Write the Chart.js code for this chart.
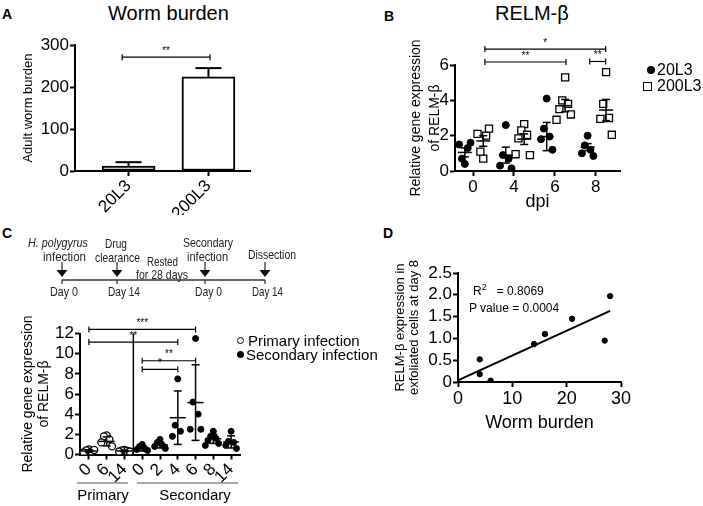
<!DOCTYPE html>
<html>
<head>
<meta charset="utf-8">
<script src="https://cdn.jsdelivr.net/npm/chart.js@4.4.1/dist/chart.umd.min.js"></script>
<style>
  body { margin: 0; background: #fff; font-family: 'Liberation Sans', Arial, sans-serif; color: #000; }
  #page { position: relative; width: 703px; height: 506px; overflow: hidden; }
  canvas, .t, svg, .mk { position: absolute; }
  .t { line-height: 1; white-space: nowrap; }
  .letter { font-weight: bold; font-size: 14px; }
  .title { font-size: 20px; }
  .mk { box-sizing: border-box; }
</style>
</head>
<body>
<div id="page">
  <!-- panel letters and titles -->
  <div class="t letter" style="left:2px;top:7px">A</div>
  <div class="t title" style="left:108px;top:3px">Worm burden</div>
  <div class="t letter" style="left:384px;top:9px">B</div>
  <div class="t title" style="left:495px;top:3px">RELM-β</div>
  <div class="t letter" style="left:2px;top:226px">C</div>
  <div class="t letter" style="left:383px;top:226px">D</div>

  <canvas id="cA" width="262" height="215" style="left:0;top:0"></canvas>
  <canvas id="cB" width="333" height="215" style="left:370px;top:0"></canvas>
  <canvas id="cC" width="370" height="201" style="left:0;top:305px"></canvas>
  <canvas id="cD" width="333" height="200" style="left:370px;top:240px"></canvas>

  <!-- legend B -->
  <div class="mk" style="left:647px;top:66px;width:8px;height:8px;border-radius:50%;background:#000"></div>
  <div class="t" style="left:657px;top:62px;font-size:16px">20L3</div>
  <div class="mk" style="left:643px;top:82px;width:9px;height:9px;border:1.3px solid #000"></div>
  <div class="t" style="left:657px;top:78px;font-size:16px">200L3</div>

  <!-- legend C -->
  <div class="mk" style="left:236.5px;top:337px;width:7px;height:7px;border-radius:50%;border:1.2px solid #000"></div>
  <div class="t" style="left:248px;top:333px;font-size:15px">Primary infection</div>
  <div class="mk" style="left:236.5px;top:350.5px;width:7px;height:7px;border-radius:50%;background:#000"></div>
  <div class="t" style="left:246px;top:346.5px;font-size:15px">Secondary infection</div>

  <svg width="370" height="506" style="left:0;top:0">
    <!-- C group labels -->
    <line x1="77" y1="483" x2="128" y2="483" stroke="#555" stroke-width="1"/>
    <line x1="137" y1="483" x2="238" y2="483" stroke="#555" stroke-width="1"/>
    <g font-family="'Liberation Sans', Arial, sans-serif" font-size="15" text-anchor="middle" dominant-baseline="central">
      <text x="103" y="494">Primary</text>
      <text x="195" y="494">Secondary</text>
    </g>
    <!-- timeline -->
    <line x1="62" y1="280" x2="265" y2="280" stroke="#333" stroke-width="1.3"/>
    <g stroke="#333" stroke-width="1.3">
      <line x1="62" y1="280" x2="62" y2="284"/>
      <line x1="117" y1="280" x2="117" y2="284"/>
      <line x1="205" y1="280" x2="205" y2="284"/>
      <line x1="265" y1="280" x2="265" y2="284"/>
      <line x1="62" y1="262" x2="62" y2="271"/>
      <line x1="117" y1="262" x2="117" y2="271"/>
      <line x1="205" y1="262" x2="205" y2="271"/>
      <line x1="265" y1="262" x2="265" y2="271"/>
    </g>
    <g fill="#111">
      <polygon points="56.5,270 67.5,270 62,277"/>
      <polygon points="111.5,270 122.5,270 117,277"/>
      <polygon points="199.5,270 210.5,270 205,277"/>
      <polygon points="259.5,270 270.5,270 265,277"/>
    </g>
    <g font-family="'Liberation Sans', Arial, sans-serif" font-size="13" dominant-baseline="central" fill="#222">
      <text x="28" y="242" font-style="italic" textLength="60" lengthAdjust="spacingAndGlyphs">H. polygyrus</text>
      <text x="43" y="256" textLength="43" lengthAdjust="spacingAndGlyphs">infection</text>
      <text x="105" y="243" textLength="22" lengthAdjust="spacingAndGlyphs">Drug</text>
      <text x="95" y="257" textLength="45" lengthAdjust="spacingAndGlyphs">clearance</text>
      <text x="147" y="261" textLength="31" lengthAdjust="spacingAndGlyphs">Rested</text>
      <text x="136" y="274" textLength="52" lengthAdjust="spacingAndGlyphs">for 28 days</text>
      <text x="183" y="242" textLength="50" lengthAdjust="spacingAndGlyphs">Secondary</text>
      <text x="187" y="256" textLength="41" lengthAdjust="spacingAndGlyphs">infection</text>
      <text x="248" y="254" textLength="48" lengthAdjust="spacingAndGlyphs">Dissection</text>
      <text x="50" y="291" textLength="28" lengthAdjust="spacingAndGlyphs">Day 0</text>
      <text x="108" y="291" textLength="32" lengthAdjust="spacingAndGlyphs">Day 14</text>
      <text x="195" y="291" textLength="27" lengthAdjust="spacingAndGlyphs">Day 0</text>
      <text x="252" y="291" textLength="31" lengthAdjust="spacingAndGlyphs">Day 14</text>
    </g>
  </svg>

  <!-- D stats -->
  <div class="t" style="left:473px;top:283px;font-size:12px">R<sup style="font-size:9px">2</sup>&nbsp;&nbsp;&nbsp;= 0.8069</div>
  <div class="t" style="left:469px;top:302px;font-size:12px">P value = 0.0004</div>
</div>

<script>
// ---- A: worm burden ----
const groupsA = ['20L3', '200L3'];
const wormMean = [12, 224];
const wormSem = [9, 21];

// ---- B: RELM-β by dpi ----
const dpi = ['0', '4', '6', '8'];
const relm20 = [
  [0.4, 0.7, 1.3, 1.5, 1.6],
  [2.6, 0.9, 0.7, 0.3, 0.15],
  [4.1, 2.4, 1.95, 1.8, 1.2],
  [2.0, 1.45, 1.2, 1.0, 0.85]
];
const relm200 = [
  [0.7, 1.1, 2.0, 2.1, 2.4],
  [2.65, 2.3, 2.05, 1.85, 0.9, 0.95],
  [5.3, 4.0, 3.8, 3.5, 3.2, 2.9],
  [5.6, 3.8, 3.0, 2.95, 2.05]
];
const relm20Mean = [1.05, 0.9, 1.95, 1.35];
const relm20Sem = [0.25, 0.45, 0.8, 0.2];
const relm200Mean = [1.7, 1.8, 3.7, 3.45];
const relm200Sem = [0.3, 0.3, 0.35, 0.6];

// ---- C: primary vs secondary infection ----
const dayC = ['0', '6', '14', '0', '2', '4', '6', '8', '14'];
const primaryCount = 3;
const exprC = [
  [0.5, 0.4, 0.3, 0.2, 0.45],
  [1.9, 1.8, 1.5, 1.2, 0.8],
  [0.45, 0.4, 0.35, 0.3, 0.3],
  [1.0, 0.8, 0.6, 0.5, 0.4],
  [1.5, 1.2, 0.9, 0.8, 0.6],
  [7.5, 2.9, 2.3, 1.8],
  [11.5, 5.2, 4.0, 2.5, 2.5],
  [2.3, 1.8, 1.6, 1.4, 1.1, 0.9],
  [2.3, 1.3, 1.2, 0.9, 0.6]
];
const meanC = [0.35, 1.3, 0.35, 0.6, 0.95, 3.65, 5.15, 1.55, 1.25];
const sdC = [0.12, 0.45, 0.08, 0.25, 0.3, 2.65, 3.75, 0.45, 0.6];

// ---- D: correlation ----
const wormBurden = [4, 4, 6, 14, 16, 21, 27, 28];
const relmDay8 = [0.52, 0.18, 0.03, 0.87, 1.1, 1.45, 0.95, 1.97];
const fitX = [0, 28];
const fitY = [0.04, 1.63];

const FONT = "'Liberation Sans', Arial, sans-serif";
Chart.defaults.font.family = FONT;
Chart.defaults.color = '#000';
Chart.defaults.plugins.legend.display = false;
Chart.defaults.plugins.tooltip.enabled = false;

function seg(ctx, x1, y1, x2, y2) {
  ctx.beginPath();
  ctx.moveTo(x1, y1);
  ctx.lineTo(x2, y2);
  ctx.stroke();
}

// spread points of one group sideways so they don't sit on top of each other
function jit(j, w) {
  const k = Math.ceil(j / 2);
  return (j % 2 ? -1 : 1) * k * w;
}

// fix scale size and drop the label overflow padding
function fixX(h) {
  return s => { s.height = h; s.paddingLeft = 0; s.paddingRight = 0; };
}
function fixY(w) {
  return s => { s.width = w; s.paddingTop = 0; s.paddingBottom = 0; };
}

// error bars, mean lines, significance brackets
const marks = {
  id: 'marks',
  afterDatasetsDraw(chart, args, o) {
    const {ctx, scales: {x, y}} = chart;
    ctx.save();
    ctx.strokeStyle = '#000';
    ctx.fillStyle = '#000';
    ctx.lineWidth = o.lineWidth || 1.5;
    (o.errors || []).forEach(e => {
      const cx = x.getPixelForValue(e.x);
      const ym = y.getPixelForValue(e.mean);
      const yt = y.getPixelForValue(e.mean + e.err);
      const yb = e.upOnly ? ym : y.getPixelForValue(e.mean - e.err);
      seg(ctx, cx, yt, cx, yb);
      seg(ctx, cx - o.cap, yt, cx + o.cap, yt);
      if (!e.upOnly) seg(ctx, cx - o.cap, yb, cx + o.cap, yb);
      if (o.meanHalf) seg(ctx, cx - o.meanHalf, ym, cx + o.meanHalf, ym);
    });
    (o.dividers || []).forEach(v => {
      const px = x.getPixelForValue(v.x);
      seg(ctx, px, y.getPixelForValue(v.top), px, y.getPixelForValue(0));
    });
    ctx.lineWidth = 1.2;
    ctx.font = '10px ' + FONT;
    ctx.textAlign = 'center';
    ctx.textBaseline = 'bottom';
    (o.brackets || []).forEach(b => {
      const x1 = x.getPixelForValue(b.from), x2 = x.getPixelForValue(b.to);
      const yy = y.getPixelForValue(b.y);
      seg(ctx, x1, yy, x2, yy);
      seg(ctx, x1, yy - 3, x1, yy + 3);
      seg(ctx, x2, yy - 3, x2, yy + 3);
      ctx.fillText(b.text, (x1 + x2) / 2, yy - 1);
    });
    ctx.restore();
  }
};

const border = { color: '#000', width: 2 };
const grid = { offset: false, drawOnChartArea: false, drawTicks: true, tickLength: 5, tickWidth: 2, tickColor: '#000' };

// ---------- A ----------
// scatter base so the x axis stays a plain linear axis; bars come from a bar dataset
new Chart(document.getElementById('cA'), {
  type: 'scatter',
  data: {
    datasets: [{
      type: 'bar',
      data: groupsA.map((g, i) => ({x: i + 1, y: wormMean[i]})),
      backgroundColor: '#fff',
      borderColor: '#000',
      borderWidth: 2,
      borderSkipped: false,
      barThickness: 53
    }]
  },
  options: {
    responsive: false,
    animation: false,
    layout: { autoPadding: false, padding: {left: 17, top: 45, right: 12, bottom: 0} },
    scales: {
      x: {
        type: 'linear', min: 0.33, max: 2.52, offset: false,
        border, grid,
        afterBuildTicks: s => { s.ticks = groupsA.map((g, i) => ({value: i + 1})); },
        afterFit: fixX(44),
        ticks: { autoSkip: false, minRotation: 45, maxRotation: 45, padding: 0, font: {size: 17},
                 callback: v => groupsA[v - 1] }
      },
      y: {
        min: 0, max: 300,
        border, grid,
        afterFit: fixY(58),
        ticks: { stepSize: 100, padding: 1, font: {size: 17} },
        title: { display: true, text: 'Adult worm burden', font: {size: 13}, padding: {top: 4, bottom: 0} }
      }
    },
    plugins: {
      marks: {
        lineWidth: 2, cap: 13,
        errors: groupsA.map((g, i) => ({x: i + 1, mean: wormMean[i], err: wormSem[i], upOnly: true})),
        brackets: [{from: 0.92, to: 2.02, y: 271, text: '**'}]
      }
    }
  },
  plugins: [marks]
});

// ---------- B ----------
new Chart(document.getElementById('cB'), {
  type: 'scatter',
  data: {
    datasets: [
      {
        label: '20L3',
        data: relm20.flatMap((g, i) => g.map((v, j) => ({x: i - 0.2 + jit(j, 0.07), y: v}))),
        pointStyle: 'circle', pointRadius: 3.5,
        backgroundColor: '#000', borderColor: '#000'
      },
      {
        label: '200L3',
        data: relm200.flatMap((g, i) => g.map((v, j) => ({x: i + 0.25 + jit(j, 0.07), y: v}))),
        pointStyle: 'rect', pointRadius: 5, borderWidth: 1.3,
        backgroundColor: '#fff', borderColor: '#000'
      }
    ]
  },
  options: {
    responsive: false,
    animation: false,
    layout: { autoPadding: false, padding: {left: 33, top: 65, right: 83, bottom: 0} },
    scales: {
      x: {
        type: 'linear', min: -0.44, max: 3.59,
        border, grid,
        afterBuildTicks: s => { s.ticks = dpi.map((d, i) => ({value: i})); },
        afterFit: fixX(44),
        ticks: { autoSkip: false, maxRotation: 0, padding: 1, font: {size: 17}, callback: v => dpi[v] },
        title: { display: true, text: 'dpi', font: {size: 18}, padding: {top: 0, bottom: 2} }
      },
      y: {
        min: 0, max: 6,
        border, grid,
        afterFit: fixY(52),
        ticks: { stepSize: 2, padding: 1, font: {size: 17} },
        title: { display: true, text: ['Relative gene expression', 'of RELM-β'],
                 font: {size: 14, lineHeight: 1.36}, padding: {top: 4, bottom: 0} }
      }
    },
    plugins: {
      marks: {
        lineWidth: 1.5, cap: 4, meanHalf: 7,
        errors: dpi.flatMap((d, i) => [
          {x: i - 0.2, mean: relm20Mean[i], err: relm20Sem[i]},
          {x: i + 0.25, mean: relm200Mean[i], err: relm200Sem[i]}
        ]),
        brackets: [
          {from: 0.29, to: 3.24, y: 6.9, text: '*'},
          {from: 0.29, to: 2.27, y: 6.17, text: '**'},
          {from: 2.85, to: 3.24, y: 6.2, text: '**'}
        ]
      }
    }
  },
  plugins: [marks]
});

// ---------- C ----------
new Chart(document.getElementById('cC'), {
  type: 'scatter',
  data: {
    datasets: [
      {
        label: 'Primary infection',
        data: exprC.slice(0, primaryCount).flatMap((g, i) => g.map((v, j) => ({x: i + jit(j, 0.15), y: v}))),
        pointRadius: 3.5, borderWidth: 1.3,
        backgroundColor: '#fff', borderColor: '#000'
      },
      {
        label: 'Secondary infection',
        data: exprC.slice(primaryCount).flatMap((g, k) => g.map((v, j) => ({x: k + primaryCount + jit(j, 0.15), y: v}))),
        pointRadius: 3,
        backgroundColor: '#000', borderColor: '#000'
      }
    ]
  },
  options: {
    responsive: false,
    animation: false,
    layout: { autoPadding: false, padding: {left: 20, top: 28.5, right: 130, bottom: 0} },
    scales: {
      x: {
        type: 'linear', min: -0.5, max: 8.5,
        border, grid,
        afterBuildTicks: s => { s.ticks = dayC.map((d, i) => ({value: i})); },
        afterFit: fixX(51.5),
        ticks: { autoSkip: false, minRotation: 45, maxRotation: 45, padding: 0, font: {size: 17},
                 callback: v => dayC[v] }
      },
      y: {
        min: 0, max: 12,
        border, grid,
        afterFit: fixY(60),
        ticks: { stepSize: 2, padding: 1, autoSkip: false, font: {size: 17} },
        title: { display: true, text: ['Relative gene expression', 'of RELM-β'],
                 font: {size: 14, lineHeight: 1.15}, padding: {top: 0, bottom: 0} }
      }
    },
    plugins: {
      marks: {
        lineWidth: 1.5, cap: 4, meanHalf: 8,
        errors: dayC.map((d, i) => ({x: i, mean: meanC[i], err: sdC[i]})),
        dividers: [{x: primaryCount - 0.5, top: 12}],
        brackets: [
          {from: 0, to: 6, y: 12.4, text: '***'},
          {from: 0, to: 5, y: 11.15, text: '**'},
          {from: 3, to: 6, y: 9.3, text: '**'},
          {from: 3, to: 5, y: 8.45, text: '*'}
        ]
      }
    }
  },
  plugins: [marks]
});

// ---------- D ----------
new Chart(document.getElementById('cD'), {
  type: 'scatter',
  data: {
    datasets: [
      {
        data: wormBurden.map((w, i) => ({x: w, y: relmDay8[i]})),
        pointRadius: 2.7, backgroundColor: '#000', borderColor: '#000'
      },
      {
        type: 'line',
        data: fitX.map((v, i) => ({x: v, y: fitY[i]})),
        borderColor: '#000', borderWidth: 2, pointRadius: 0, fill: false
      }
    ]
  },
  options: {
    responsive: false,
    animation: false,
    layout: { autoPadding: false, padding: {left: 20, top: 33, right: 82, bottom: 0} },
    scales: {
      x: {
        type: 'linear', min: 0, max: 30,
        border, grid,
        afterFit: fixX(58),
        ticks: { stepSize: 10, maxRotation: 0, padding: 1, font: {size: 18} },
        title: { display: true, text: 'Worm burden', font: {size: 18}, padding: {top: 0, bottom: 6} }
      },
      y: {
        min: 0, max: 2.5,
        border, grid,
        afterFit: fixY(68),
        ticks: { stepSize: 0.5, autoSkip: false, padding: 1, font: {size: 17},
                 callback: v => v === 0 ? '0' : v.toFixed(1) },
        title: { display: true, text: ['RELM-β expression in', 'exfoliated cells at day 8'],
                 font: {size: 13, lineHeight: 1.08}, padding: {top: 3, bottom: 0} }
      }
    }
  }
});
</script>
</body>
</html>
